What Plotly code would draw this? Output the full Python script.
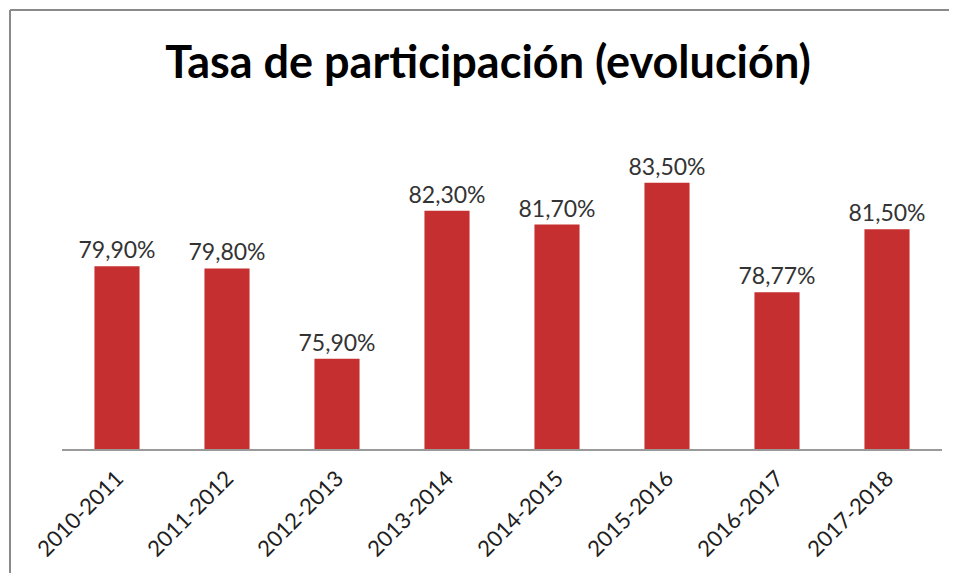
import plotly.graph_objects as go

categories = ["2010-2011", "2011-2012", "2012-2013", "2013-2014",
              "2014-2015", "2015-2016", "2016-2017", "2017-2018"]
values = [79.90, 79.80, 75.90, 82.30, 81.70, 83.50, 78.77, 81.50]
labels = ["79,90%", "79,80%", "75,90%", "82,30%", "81,70%", "83,50%", "78,77%", "81,50%"]

# page body has an 8px margin; figure sized so the page does not overflow
W, H = 941, 565
ml, mr, mt, mb = 54, 7, 117, 124
pw = W - ml - mr
ph = H - mt - mb

FONT = "Lato, Open Sans, sans-serif"

fig = go.Figure()
fig.add_trace(go.Bar(
    x=categories, y=values, text=labels, textposition="outside",
    constraintext="none",
    textfont=dict(family=FONT, size=23, color="#333333"),
    marker=dict(color="#c62f2f", line=dict(width=0)),
    width=0.41, cliponaxis=False,
))

x_left = (2 - ml) / pw
y_top = (H - 2 - mb) / ph
fig.update_layout(
    width=W, height=H,
    margin=dict(l=ml, r=mr, t=mt, b=mb),
    paper_bgcolor="white", plot_bgcolor="white",
    showlegend=False,
    title=dict(text="<b>Tasa de participación (evolución)</b>",
               font=dict(family=FONT, size=45, color="#000000"),
               x=480 / W, xanchor="center", y=1 - 54 / H, yanchor="middle"),
    xaxis=dict(tickangle=-45, showline=True, linecolor="#9a9a9a", linewidth=1.5,
               ticks="", showgrid=False, ticklabelstandoff=6,
               tickfont=dict(family=FONT, size=22, color="#202020")),
    yaxis=dict(range=[72, 86], visible=False, showgrid=False, zeroline=False),
    shapes=[
        dict(type="line", xref="paper", yref="paper",
             x0=x_left, x1=(W - ml) / pw, y0=y_top, y1=y_top,
             line=dict(color="#8a8a8a", width=2), layer="below"),
        dict(type="line", xref="paper", yref="paper",
             x0=x_left, x1=x_left, y0=-mb / ph, y1=y_top,
             line=dict(color="#8a8a8a", width=2), layer="below"),
    ],
)

fig.write_html("out.html")
